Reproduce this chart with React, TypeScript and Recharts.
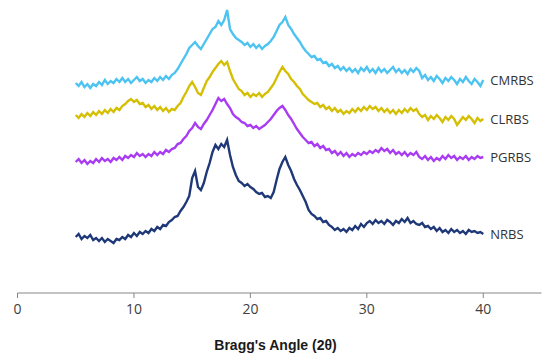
import { Line, LineChart, XAxis, YAxis } from 'recharts'

// 2θ sampling grid (degrees)
const angles = [
  5, 5.25, 5.5, 5.75, 6, 6.25, 6.5, 6.75, 7, 7.25, 7.5, 7.75, 8, 8.25, 8.5, 8.75,
  9, 9.25, 9.5, 9.75, 10, 10.25, 10.5, 10.75, 11, 11.25, 11.5, 11.75, 12, 12.25, 12.5, 12.75,
  13, 13.25, 13.5, 13.75, 14, 14.25, 14.5, 14.75, 15, 15.25, 15.5, 15.75, 16, 16.25, 16.5, 16.75,
  17, 17.25, 17.5, 17.75, 18, 18.25, 18.5, 18.75, 19, 19.25, 19.5, 19.75, 20, 20.25, 20.5, 20.75,
  21, 21.25, 21.5, 21.75, 22, 22.25, 22.5, 22.75, 23, 23.25, 23.5, 23.75, 24, 24.25, 24.5, 24.75,
  25, 25.25, 25.5, 25.75, 26, 26.25, 26.5, 26.75, 27, 27.25, 27.5, 27.75, 28, 28.25, 28.5, 28.75,
  29, 29.25, 29.5, 29.75, 30, 30.25, 30.5, 30.75, 31, 31.25, 31.5, 31.75, 32, 32.25, 32.5, 32.75,
  33, 33.25, 33.5, 33.75, 34, 34.25, 34.5, 34.75, 35, 35.25, 35.5, 35.75, 36, 36.25, 36.5, 36.75,
  37, 37.25, 37.5, 37.75, 38, 38.25, 38.5, 38.75, 39, 39.25, 39.5, 39.75, 40,
]

// intensities, already stacked with their vertical offset (arbitrary units)
const nrbs = [
  56, 59, 54, 57, 55, 58, 53, 55, 52, 55, 51, 54, 52, 50, 54, 53,
  56, 54, 58, 56, 60, 57, 61, 59, 62, 60, 64, 62, 66, 64, 68, 67,
  71, 73, 76, 77, 82, 86, 91, 97, 115, 122, 106, 103, 110, 121, 130, 141,
  148, 144, 149, 146, 153, 138, 126, 118, 112, 110, 107, 109, 106, 104, 101, 99,
  100, 96, 97, 95, 101, 113, 124, 131, 136, 128, 122, 114, 108, 103, 97, 91,
  83, 79, 77, 74, 75, 71, 72, 68, 66, 63, 65, 62, 64, 61, 65, 63,
  67, 64, 69, 66, 70, 72, 69, 73, 70, 72, 69, 73, 71, 68, 72, 70,
  74, 71, 75, 70, 72, 69, 68, 70, 66, 67, 64, 66, 62, 65, 61, 63,
  60, 64, 61, 63, 60, 62, 59, 63, 61, 62, 60, 61, 59,
]

const pgrbs = [
  131, 134, 130, 133, 129, 132, 130, 134, 131, 135, 132, 134, 131, 135, 133, 136,
  133, 137, 135, 138, 136, 140, 137, 139, 136, 139, 137, 141, 138, 141, 139, 143,
  141, 144, 145, 149, 150, 154, 157, 162, 165, 170, 166, 164, 169, 173, 178, 183,
  189, 195, 192, 194, 189, 185, 179, 176, 174, 171, 170, 167, 168, 165, 167, 164,
  166, 168, 171, 174, 178, 182, 185, 187, 183, 178, 174, 169, 164, 160, 156, 153,
  150, 151, 147, 149, 145, 147, 143, 144, 140, 142, 138, 141, 137, 140, 136, 139,
  137, 140, 138, 141, 139, 142, 140, 143, 141, 145, 142, 144, 140, 143, 139, 141,
  138, 141, 137, 140, 138, 141, 136, 134, 137, 133, 136, 132, 135, 133, 137, 134,
  138, 135, 137, 133, 136, 134, 137, 133, 136, 134, 137, 135, 136,
]

const clrbs = [
  178, 175, 179, 176, 180, 177, 181, 178, 182, 179, 183, 180, 184, 181, 185, 183,
  187, 189, 192, 194, 191, 193, 189, 190, 186, 188, 184, 187, 183, 186, 182, 185,
  181, 184, 183, 187, 190, 196, 201, 207, 211, 206, 200, 198, 205, 212, 216, 221,
  225, 229, 232, 228, 231, 222, 214, 209, 204, 202, 198, 200, 196, 199, 197, 200,
  196, 199, 201, 205, 209, 215, 221, 226, 222, 219, 214, 211, 207, 204, 199, 196,
  193, 191, 189, 190, 186, 188, 184, 186, 182, 185, 181, 183, 179, 182, 180, 184,
  181, 185, 182, 186, 183, 187, 184, 186, 182, 185, 181, 184, 180, 183, 179, 183,
  180, 184, 181, 185, 182, 184, 179, 176, 178, 173, 177, 174, 178, 175, 171, 176,
  173, 177, 174, 168, 172, 176, 173, 177, 174, 170, 175, 172, 174,
]

const cmrbs = [
  210, 207, 211, 206, 209, 205, 209, 207, 211, 208, 213, 209, 212, 210, 214, 211,
  215, 211, 214, 210, 213, 216, 212, 214, 210, 213, 211, 215, 212, 216, 213, 217,
  214, 218, 220, 224, 229, 234, 239, 245, 248, 251, 247, 244, 249, 254, 259, 264,
  266, 272, 268, 273, 283, 264, 259, 255, 253, 251, 248, 250, 246, 249, 245, 248,
  244, 247, 249, 252, 256, 262, 268, 271, 276, 268, 264, 259, 255, 251, 246, 242,
  239, 236, 237, 233, 234, 230, 231, 227, 229, 225, 227, 223, 226, 222, 225, 221,
  224, 220, 225, 222, 226, 221, 224, 220, 225, 221, 224, 220, 223, 226, 221, 224,
  220, 223, 219, 224, 221, 225, 222, 215, 218, 213, 216, 212, 217, 214, 210, 215,
  212, 216, 213, 209, 214, 211, 216, 212, 209, 214, 211, 207, 213,
]

const xTicks = [0, 10, 20, 30, 40]

const series = [
  { key: 'cmrbs', name: 'CMRBS', color: '#4cc3f1' },
  { key: 'clrbs', name: 'CLRBS', color: '#d4bf05' },
  { key: 'pgrbs', name: 'PGRBS', color: '#a93cf2' },
  { key: 'nrbs', name: 'NRBS', color: '#1f3878' },
]

const rows = angles.map((angle, i) => ({
  angle,
  nrbs: nrbs[i],
  pgrbs: pgrbs[i],
  clrbs: clrbs[i],
  cmrbs: cmrbs[i],
}))

const last = angles.length - 1

const endLabel = (name: string) => (props: any) => {
  if (props.index !== last) return <g key={props.index} />
  return (
    <text
      key={props.index}
      x={props.x + 7}
      y={props.y}
      dy="0.35em"
      fill="#333"
      fontSize={13}
      fontFamily="'Open Sans', sans-serif"
    >
      {name}
    </text>
  )
}

export default function App() {
  return (
    <div style={{ position: 'relative', width: 542, height: 351 }}>
      <LineChart
        width={542}
        height={351}
        data={rows}
        margin={{ top: 0, right: 8.5, bottom: 36, left: 9.5 }}
      >
        <XAxis
          dataKey="angle"
          type="number"
          domain={[0, 45]}
          ticks={xTicks}
          height={30}
          tickSize={5}
          tickMargin={6}
          stroke="#868686"
          tick={{ fontSize: 14, fill: '#404040', fontFamily: "'Open Sans', sans-serif" }}
        />
        <YAxis hide domain={[0, 285]} />
        {series.map((s) => (
          <Line
            key={s.key}
            dataKey={s.key}
            stroke={s.color}
            strokeWidth={2.4}
            dot={false}
            isAnimationActive={false}
            label={endLabel(s.name)}
          />
        ))}
      </LineChart>
      <div
        style={{
          position: 'absolute',
          left: 0,
          top: 328,
          width: 535,
          textAlign: 'center',
          fontFamily: "'Liberation Sans', Arial, sans-serif",
          fontWeight: 'bold',
          fontSize: 14,
          lineHeight: '18px',
          color: '#1a1a1a',
        }}
      >
        Bragg's Angle (2θ)
      </div>
    </div>
  )
}
